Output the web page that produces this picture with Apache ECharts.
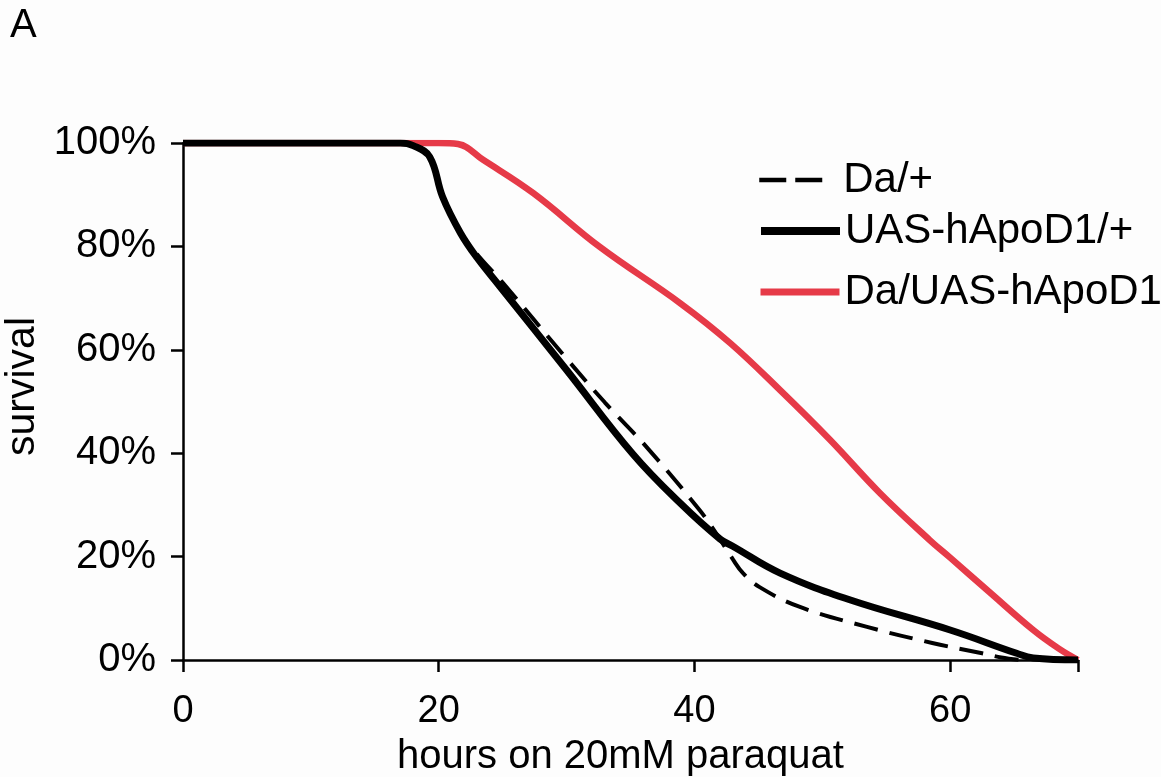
<!DOCTYPE html>
<html>
<head>
<meta charset="utf-8">
<script src="https://cdn.jsdelivr.net/npm/echarts@6/dist/echarts.min.js"></script>
<style>
html,body{margin:0;padding:0;background:#fdfdfd;}
#chart{width:1161px;height:777px;}
</style>
</head>
<body>
<div id="chart"></div>
<script>
// Data
const seriesNames = ['Da/+', 'UAS-hApoD1/+', 'Da/UAS-hApoD1'];
const xTicks = [0, 20, 40, 60];
const yTicks = [0, 20, 40, 60, 80, 100];

const daHours    = [0, 17, 18, 19.3, 20.3, 21.7, 23, 25, 30, 33, 36.4, 40.4, 41.7, 43, 43.8, 45.1, 48.2, 53.5, 58.6, 62.5, 64, 65.5];
const daSurvival = [100, 100, 99.5, 97.3, 89.6, 82.8, 78.5, 73, 58.3, 49.8, 40.8, 29, 24.5, 19.5, 16.8, 14.1, 10.3, 6.4, 3.3, 1.3, 0.5, 0];

const uasHours    = [0, 17, 18, 19.3, 20.3, 21.7, 23, 24.8, 30, 35.2, 38.9, 42, 43, 46.7, 52.2, 60, 65.2, 66.5, 70];
const uasSurvival = [100, 100, 99.5, 97.3, 89.6, 82.6, 77.8, 72.2, 56.1, 39.8, 30.3, 23.4, 22, 16.8, 11.6, 5.8, 1.3, 0.4, 0];

const redHours    = [0, 20, 21.5, 23.5, 27.4, 32.6, 38.9, 42.8, 46.7, 50.6, 54.5, 58.4, 60, 63, 66.5, 68.5, 70];
const redSurvival = [100, 100, 99.8, 96.7, 90.3, 79.9, 69, 61.3, 52.2, 42.6, 32.3, 23.2, 19.8, 13.3, 5.8, 2.2, 0];

function pairs(xs, ys){ return xs.map((x,i)=>[x, ys[i]]); }

const FONT = "'Liberation Sans', Arial, Helvetica, sans-serif";
const RED = '#e63a48';

function legendFor(name, top, lineStyle){
  return {
    orient:'vertical', left:757, top:top, padding:0,
    itemWidth:79, itemHeight:14,
    selectedMode:false,
    data:[{name:name, itemStyle:{opacity:0}, lineStyle:lineStyle}],
    textStyle:{fontFamily:FONT, fontSize:42, color:'#000', lineHeight:48}
  };
}

const chart = echarts.init(document.getElementById('chart'), null, {renderer:'canvas'});
chart.setOption({
  animation:false,
  backgroundColor:'#fdfdfd',
  title:{text:'A', left:10, top:6, padding:0, textStyle:{fontFamily:FONT, fontSize:40, fontWeight:'normal', color:'#000', lineHeight:40}},
  grid:{left:183, right:83, top:143, bottom:117, containLabel:false, outerBoundsMode:'none'},
  legend:[
    legendFor(seriesNames[0], 156, {color:'#000', width:4.5, type:[27,9,27,16]}),
    legendFor(seriesNames[1], 207, {color:'#000', width:8, type:'solid'}),
    legendFor(seriesNames[2], 268, {color:RED, width:7, type:'solid'})
  ],
  xAxis:{
    type:'value', min:0, max:70, interval:20,
    name:'hours on 20mM paraquat', nameLocation:'middle', nameGap:77,
    nameTextStyle:{fontFamily:FONT, fontSize:40, color:'#000', padding:[0,20,0,0]},
    axisLine:{show:true, onZero:false, lineStyle:{color:'#000', width:2.5}},
    axisTick:{show:true, length:12, lineStyle:{color:'#000', width:2.5}},
    axisLabel:{fontFamily:FONT, fontSize:38, color:'#000', margin:33,
      customValues:xTicks, formatter:v=>String(v)},
    splitLine:{show:false}
  },
  yAxis:{
    type:'value', min:0, max:100, interval:20,
    name:'survival', nameLocation:'middle', nameGap:138, nameRotate:90,
    nameTextStyle:{fontFamily:FONT, fontSize:41, color:'#000', padding:[0,0,0,30]},
    axisLine:{show:true, lineStyle:{color:'#000', width:2.5}},
    axisTick:{show:true, length:12, lineStyle:{color:'#000', width:2.5}},
    axisLabel:{fontFamily:FONT, fontSize:40, color:'#000', margin:27,
      customValues:yTicks, formatter:v=>v+'%'},
    splitLine:{show:false}
  },
  series:[
    {name:seriesNames[2], type:'line', data:pairs(redHours, redSurvival), showSymbol:false, symbol:'none',
      smooth:0.4, z:2,
      lineStyle:{color:RED, width:6.5}, itemStyle:{color:RED}},
    {name:seriesNames[1], type:'line', data:pairs(uasHours, uasSurvival), showSymbol:false, symbol:'none',
      smooth:0.4, z:3,
      lineStyle:{color:'#000', width:7}, itemStyle:{color:'#000'}},
    {name:seriesNames[0], type:'line', data:pairs(daHours, daSurvival), showSymbol:false, symbol:'none',
      smooth:0.4, z:4,
      lineStyle:{color:'#000', width:4, type:[24,12]}, itemStyle:{color:'#000'}}
  ]
});
</script>
</body>
</html>
